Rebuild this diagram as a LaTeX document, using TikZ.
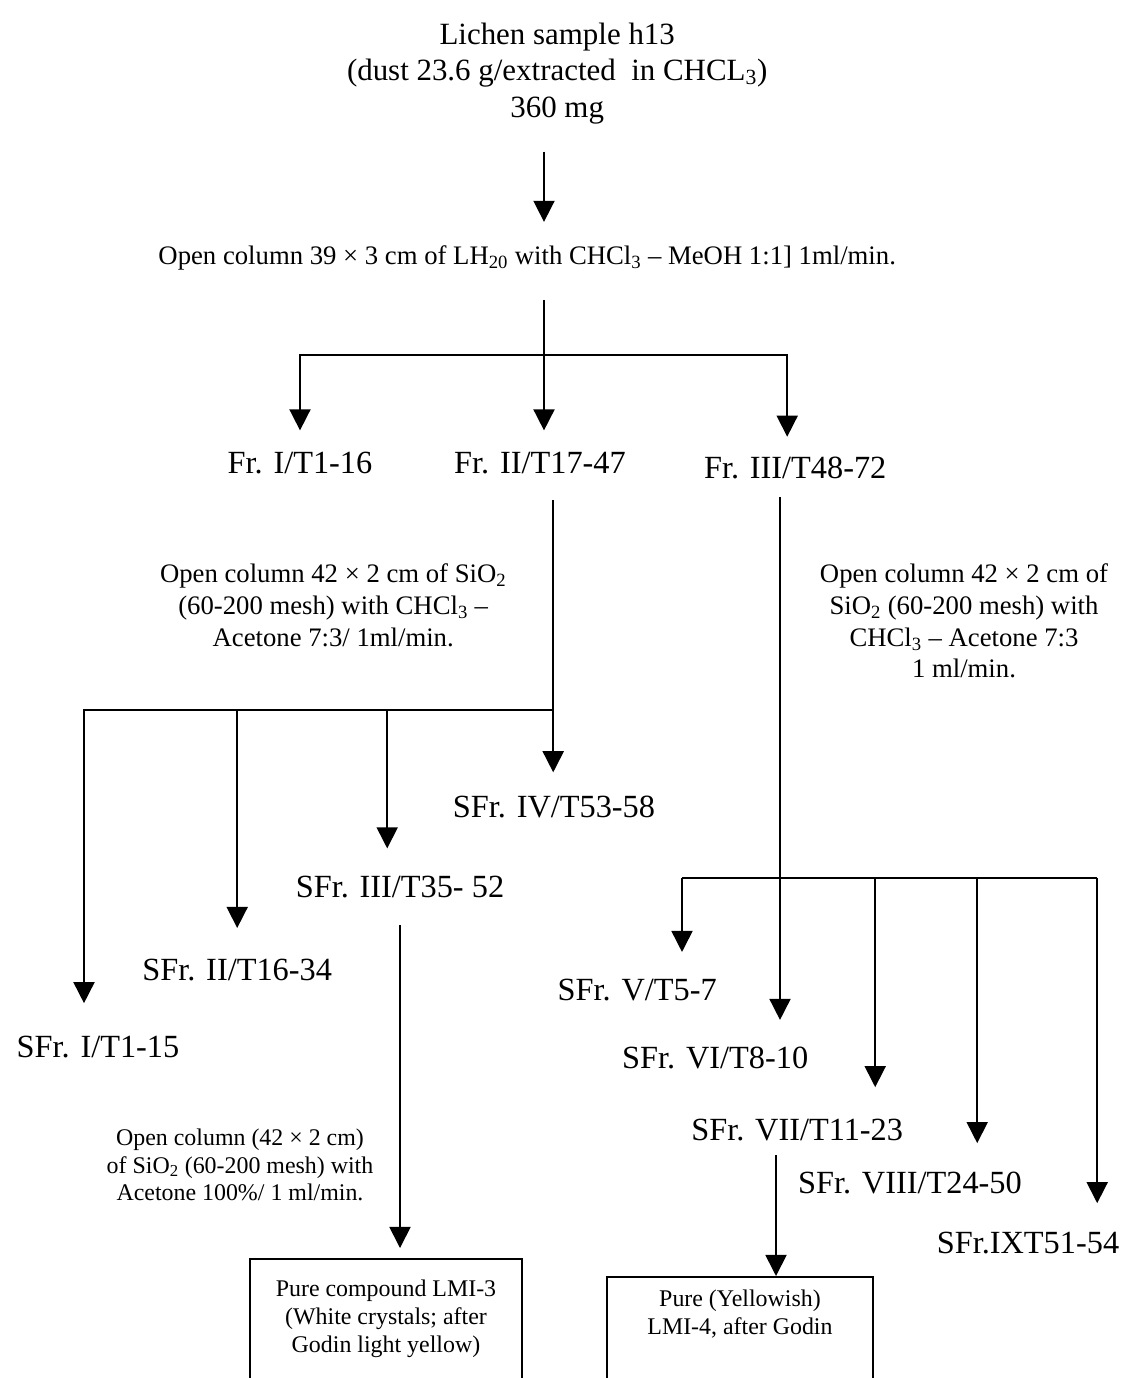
\documentclass[tikz,border=0pt]{standalone}
\usepackage{fontspec}
\setmainfont{Liberation Serif}
\usetikzlibrary{arrows.meta, calc}

\begin{document}
\begin{tikzpicture}[
    lbl/.style={font=\fontsize{23}{27}\selectfont, inner sep=2pt},
    head/.style={align=center, font=\fontsize{22}{26}\selectfont, inner sep=2pt},
    note/.style={align=center, font=\fontsize{19}{22.5}\selectfont, inner sep=2pt},
    smallnote/.style={align=center, font=\fontsize{17}{19.5}\selectfont, inner sep=2pt},
    result/.style={draw, line width=1.2pt, anchor=north, inner xsep=0pt, font=\fontsize{17}{20}\selectfont},
    arrow/.style={-{Triangle[length=15pt, width=15pt]}, line width=1.2pt},
    bar/.style={line width=1.4pt},
]
\useasboundingbox (0,0) rectangle (28.15,-34.45);
\clip (0,0) rectangle (28.15,-34.45);

% sample
\node[head] (title) at (13.93,-1.83)
    {Lichen sample h13\\(dust 23.6 g/extracted\ \ in CHCL\textsubscript{3})\\360 mg};
\node[note] (col1) at (13.18,-6.45)
    {Open column 39 × 3 cm of LH\textsubscript{20} with CHCl\textsubscript{3} -- MeOH 1:1] 1ml/min.};

\coordinate (j0) at (13.6,-8.88);
\draw[arrow, shorten <=0.62cm, shorten >=0.52cm] (title.south -| j0) -- (col1.north -| j0);

% fractions
\node[lbl] (fr1) at (7.5,-11.58) {Fr. I/T1-16};
\node[lbl] (fr2) at (13.5,-11.58) {Fr. II/T17-47};
\node[lbl] (fr3) at (19.88,-11.7) {Fr. III/T48-72};

\draw[arrow, shorten <=0.67cm, shorten >=0.47cm] (col1.south -| j0) -- (fr2.north -| j0);
\draw[arrow, shorten >=0.47cm] (j0) -| (fr1.north);
\draw[arrow, shorten >=0.43cm] (j0) -| ($(fr3.north)+(-0.2,0)$);

% Fr. II column
\node[note] (note2) at (8.33,-15.13)
    {Open column 42 × 2 cm of SiO\textsubscript{2}\\(60-200 mesh) with CHCl\textsubscript{3} --\\Acetone 7:3/ 1ml/min.};

\node[lbl] (sfr1) at (2.45,-26.18) {SFr. I/T1-15};
\node[lbl] (sfr2) at (5.93,-24.25) {SFr. II/T16-34};
\node[lbl] (sfr3) at (10.0,-22.18) {SFr. III/T35- 52};
\node[lbl] (sfr4) at (13.85,-20.18) {SFr. IV/T53-58};

\coordinate (j1) at (13.83,-17.75);
\draw[arrow, shorten <=0.57cm, shorten >=0.52cm] (fr2.south -| j1) -- (sfr4.north -| j1);
\draw[arrow, shorten >=0.75cm] (j1) -| ($(sfr1.north)+(-0.35,0)$);
\draw[arrow, shorten >=0.7cm] (j1) -| (sfr2.north);
\draw[arrow, shorten >=0.62cm] (j1) -| ($(sfr3.north)+(-0.32,0)$);

% Fr. III column
\node[note] (note3) at (24.1,-15.53)
    {Open column 42 × 2 cm of\\SiO\textsubscript{2} (60-200 mesh) with\\CHCl\textsubscript{3} -- Acetone 7:3\\1 ml/min.};

\node[lbl] (sfr5) at (15.93,-24.75) {SFr. V/T5-7};
\node[lbl] (sfr6) at (17.88,-26.45) {SFr. VI/T8-10};
\node[lbl] (sfr7) at (19.93,-28.25) {SFr. VII/T11-23};
\node[lbl] (sfr8) at (22.75,-29.58) {SFr. VIII/T24-50};
\node[lbl] (sfr9) at (25.7,-31.08) {SFr.IXT51-54};

\coordinate (j2) at (19.5,-21.95);
\coordinate (b5) at (17.05,-21.95);
\coordinate (b7) at (21.88,-21.95);
\coordinate (b8) at (24.43,-21.95);
\coordinate (b9) at (27.43,-21.95);
\draw[arrow, shorten <=0.37cm, shorten >=0.6cm] (fr3.south -| j2) -- (sfr6.north -| j2);
\draw[bar] (b5) -- (b9);
\draw[arrow, shorten >=0.6cm] (b5) -- (b5 |- sfr5.north);
\draw[arrow, shorten >=0.72cm] (b7) -- (b7 |- sfr7.north);
\draw[arrow, shorten >=0.65cm] (b8) -- (b8 |- sfr8.north);
\draw[arrow, shorten >=0.65cm] (b9) -- (b9 |- sfr9.north);

% pure compounds
\node[smallnote] (note4) at (6.0,-29.13)
    {Open column (42 × 2 cm)\\of SiO\textsubscript{2} (60-200 mesh) with\\Acetone 100\%/ 1 ml/min.};

\node[result, inner ysep=15pt] (box1) at (9.65,-31.45)
    {\parbox[t][4cm][t]{6.8cm}{\centering Pure compound LMI-3\\(White crystals; after\\Godin light yellow)}};
\node[result, inner ysep=9.5pt] (box2) at (18.5,-31.9)
    {\parbox[t][4cm][t]{6.65cm}{\centering Pure (Yellowish)\\LMI-4, after Godin}};

\coordinate (s7) at ($(sfr7.south)+(-0.53,0)$);
\draw[arrow, shorten <=0.6cm, shorten >=0.25cm] (sfr3.south) -- (sfr3.south |- box1.north);
\draw[arrow, shorten <=0.28cm] (s7) -- (s7 |- box2.north);

\end{tikzpicture}
\end{document}
